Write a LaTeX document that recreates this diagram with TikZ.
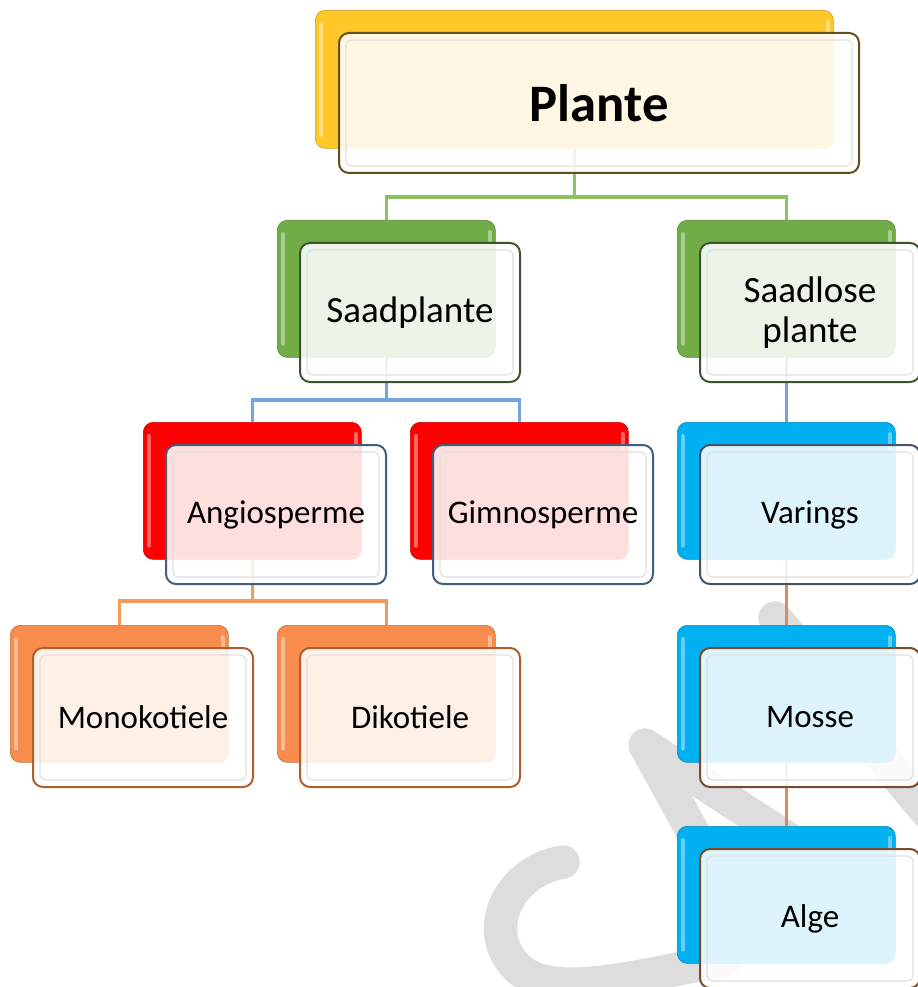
\documentclass[tikz,border=0pt]{standalone}
\usepackage{fontspec}
\setmainfont{Carlito}
\usetikzlibrary{calc}
\pgfdeclarelayer{wm}
\pgfdeclarelayer{conn}
\pgfsetlayers{wm,conn,main}
\definecolor{cYel}{RGB}{255,200,40}
\definecolor{cGrn}{RGB}{112,173,71}
\definecolor{cRed}{RGB}{255,0,0}
\definecolor{cOra}{RGB}{247,140,76}
\definecolor{cBlu}{RGB}{0,176,240}
\definecolor{eYel}{RGB}{100,80,30}
\definecolor{eGrn}{RGB}{60,85,45}
\definecolor{eRed}{RGB}{65,95,125}
\definecolor{eOra}{RGB}{175,95,45}
\definecolor{eBlu}{RGB}{65,85,105}
\definecolor{eBrn}{RGB}{120,75,45}
\definecolor{lGrn}{RGB}{140,195,95}
\definecolor{lBlu}{RGB}{115,165,225}
\definecolor{lSla}{RGB}{125,160,200}
\definecolor{lOra}{RGB}{245,155,90}
\definecolor{lBrn}{RGB}{215,140,95}
\definecolor{wmgray}{RGB}{221,221,221}
\tikzset{
 backbox/.style={rounded corners=7.5pt, minimum width=163.5pt, minimum height=102.75pt, inner sep=0pt, line width=0.5pt},
 frontbox/.style={rounded corners=7.5pt, minimum width=165pt, minimum height=104.25pt, inner sep=0pt, fill=white, fill opacity=0.87, text opacity=1, line width=1.5pt, align=center},
 bevel/.style={rounded corners=4pt, draw=black!12, line width=0.8pt},
 shine/.style={draw=white, opacity=0.4, line width=3pt, line cap=round},
 conn/.style={line width=2.4pt},
 wmline/.style={draw=wmgray, line width=25pt, line cap=round, line join=round},
}
\newcommand\twobox[7]{%
  \node[backbox, fill=#4, draw=#4!80!black, anchor=north west] (b#1) at (#2,#3) {};
  \draw[shine] ($(b#1.north west)+(6,14)$) -- ($(b#1.south west)+(6,-14)$);
  \draw[shine] ($(b#1.north east)+(-6,12)$) -- ++(0,14);
  \node[frontbox, draw=#5, anchor=north west, font=\fontsize{#6}{30}\selectfont] (#1) at ({#2+22},{#3+22}) {#7};
  \draw[bevel] ($(#1.north west)+(8,8)$) rectangle ($(#1.south east)+(-8,-8)$);
}
\begin{document}
\begin{tikzpicture}[x=0.75pt,y=-0.75pt]
\useasboundingbox (0,0) rectangle (917,987);
\begin{pgfonlayer}{wm}
\fill[white] (0,0) rectangle (917,987);
\draw[wmline] (563,862) .. controls (505,872) and (480,935) .. (520,970) .. controls (555,1000) and (640,975) .. (725,960);
\draw[wmline] (700,845) -- (645,745) -- (790,840);
\draw[wmline] (775,618) .. controls (830,680) and (880,760) .. (930,815);
\end{pgfonlayer}
% top box
\node[backbox, minimum width=388.5pt, minimum height=103.5pt, fill=cYel, draw=cYel!80!black, anchor=north west] (bP) at (315,10) {};
\draw[shine] ($(bP.north west)+(6,14)$) -- ($(bP.south west)+(6,-14)$);
\draw[shine] ($(bP.north east)+(-6,12)$) -- ++(0,14);
\node[frontbox, minimum width=390pt, minimum height=105pt, draw=eYel, anchor=north west, font=\fontsize{39.5}{45}\selectfont\bfseries] (P) at (338,32) {Plante};
\draw[bevel] ($(P.north west)+(8,8)$) rectangle ($(P.south east)+(-8,-8)$);
% level 2
\twobox{Sa}{277}{220}{cGrn}{eGrn}{27.75}{Saadplante}
\twobox{Sl}{677}{220}{cGrn}{eGrn}{27.75}{Saadlose\\plante}
% level 3
\twobox{An}{143}{422}{cRed}{eRed}{24.75}{Angiosperme}
\twobox{Gi}{410}{422}{cRed}{eRed}{24.75}{Gimnosperme}
\twobox{Va}{677}{422}{cBlu}{eBlu}{24.75}{Varings}
% level 4
\twobox{Mo}{10}{625}{cOra}{eOra}{24.75}{Monokotiele}
\twobox{Di}{277}{625}{cOra}{eOra}{24.75}{Dikotiele}
\twobox{Ms}{677}{625}{cBlu}{eBrn}{24.75}{Mosse}
\twobox{Al}{677}{826}{cBlu}{eBrn}{24.75}{Alge}
\begin{pgfonlayer}{conn}
\draw[conn, lGrn] (bP.south) -- (bP.south |- 0,197) -| (bSa.north);
\draw[conn, lGrn] (bP.south |- 0,197) -| (bSl.north);
\draw[conn, lBlu] (bSa.south) -- (bSa.south |- 0,400) -| (bAn.north);
\draw[conn, lBlu] (bSa.south |- 0,400) -| (bGi.north);
\draw[conn, lSla] (bSl.south) -- (bVa.north);
\draw[conn, lOra] (bAn.south) -- (bAn.south |- 0,601) -| (bMo.north);
\draw[conn, lOra] (bAn.south |- 0,601) -| (bDi.north);
\draw[conn, lBrn] (bVa.south) -- (bMs.north);
\draw[conn, lBrn] (bMs.south) -- (bAl.north);
\end{pgfonlayer}
\end{tikzpicture}
\end{document}
